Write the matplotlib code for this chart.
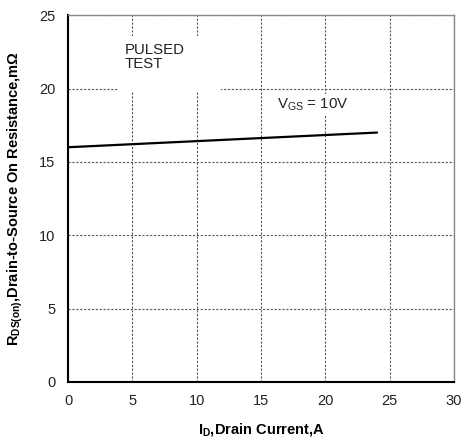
"""On-resistance vs drain current curve, datasheet style."""

import matplotlib
matplotlib.use('Agg')
import matplotlib.pyplot as plt
from matplotlib.patches import Rectangle

plt.rcParams.update({
    'font.family': ['Liberation Sans', 'DejaVu Sans'],
    'font.size': 10,
    'mathtext.fontset': 'custom',
    'mathtext.rm': 'Liberation Sans',
    'mathtext.bf': 'Liberation Sans:bold',
})

# R_DS(on) curve at VGS = 10V
drain_current = [0, 24]
r_ds_on = [16.0, 17.0]

x_ticks = [0, 5, 10, 15, 20, 25, 30]
y_ticks = [0, 5, 10, 15, 20, 25]

TEXT_COLOR = '#222222'
GRID_COLOR = '#555555'

fig = plt.figure(figsize=(4.66, 4.43), dpi=100)
ax = fig.add_axes([0.146, 0.1377, 0.828, 0.828])

ax.plot(drain_current, r_ds_on, color='black', linewidth=1.6, zorder=4)

ax.set_xlim(0, 30)
ax.set_ylim(0, 25)
ax.set_xticks(x_ticks)
ax.set_yticks(y_ticks)
ax.tick_params(length=0, pad=9, labelsize=10.5, colors=TEXT_COLOR)
ax.grid(True, linestyle=(0, (2.0, 1.5)), color=GRID_COLOR, linewidth=0.8)

for side in ['left', 'bottom']:
    ax.spines[side].set_color('black')
    ax.spines[side].set_linewidth(1.5)
for side in ['top', 'right']:
    ax.spines[side].set_color('#888888')
    ax.spines[side].set_linewidth(1.0)

# white patch behind the test-condition note
ax.add_patch(Rectangle((4.0, 19.8), 7.9, 3.75, facecolor='white',
                       edgecolor='none', zorder=2))
ax.text(4.4, 23.1, 'PULSED\nTEST', fontsize=10.8, color=TEXT_COLOR,
        va='top', ha='left', linespacing=0.95, zorder=3)

ax.text(19.0, 18.9, r'$\mathrm{V_{GS}}$ = 10V', fontsize=10.8, color=TEXT_COLOR,
        va='center', ha='center', zorder=3,
        bbox=dict(facecolor='white', edgecolor='none', pad=2))

ax.set_xlabel(r'$\mathbf{I_D}$,Drain Current,A', fontweight='bold',
              fontsize=10.5, labelpad=9)
ax.set_ylabel(r'$\mathbf{R_{DS(on)}}$,Drain-to-Source On Resistance,m$\mathbf{\Omega}$',
              fontweight='bold', fontsize=10.5, labelpad=10)

fig.savefig('out.png', dpi=100)
